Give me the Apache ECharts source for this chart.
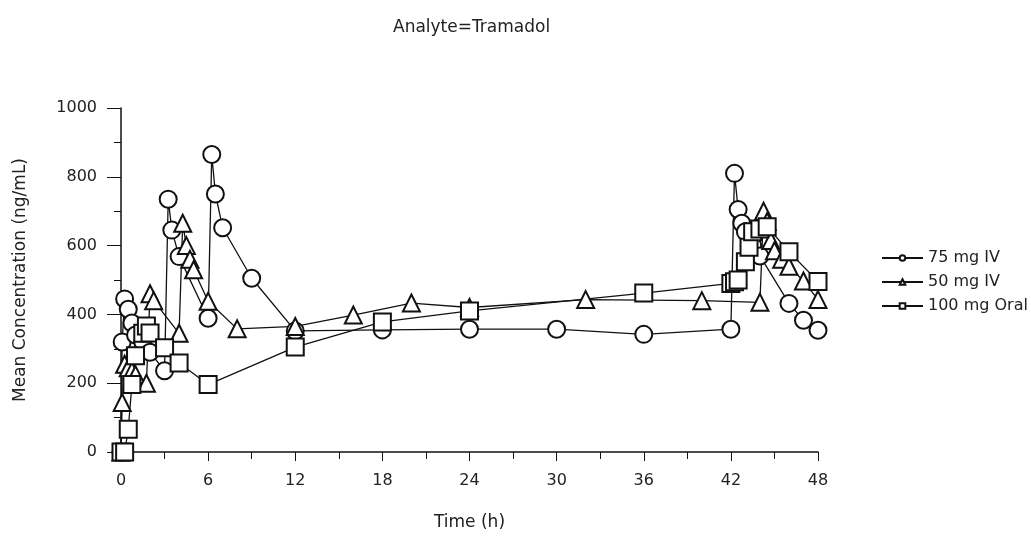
<!DOCTYPE html>
<html>
<head>
<meta charset="utf-8">
<script src="https://cdn.jsdelivr.net/npm/echarts@6/dist/echarts.min.js"></script>
<style>
html,body{margin:0;padding:0;background:#fff;}
#container{width:1031px;height:536px;}
</style>
</head>
<body>
<div id="container"></div>
<script>
// times (h) and mean concentrations (ng/mL)
var seriesNames = ['75 mg IV', '50 mg IV', '100 mg Oral'];

var iv75Time = [0, 0.08, 0.25, 0.5, 0.75, 1, 1.5, 2, 3, 3.25, 3.5, 4, 6, 6.25, 6.5, 7, 9, 12, 18, 24, 30, 36, 42, 42.25, 42.5, 42.75, 43, 43.5, 44, 46, 47, 48];
var iv75Conc = [0, 320, 445, 415, 375, 340, 320, 290, 236, 735, 645, 568, 389, 865, 750, 652, 505, 352, 355, 357, 357, 342, 357, 810, 705, 665, 640, 600, 570, 432, 383, 354];

var iv50Time = [0, 0.08, 0.25, 0.5, 0.75, 1, 1.75, 2, 2.25, 4, 4.25, 4.5, 4.75, 5, 6, 8, 12, 16, 20, 24, 32, 40, 44, 44.25, 44.5, 44.75, 45, 45.5, 46, 47, 48];
var iv50Conc = [0, 144, 255, 245, 235, 225, 200, 460, 440, 345, 665, 600, 560, 530, 438, 358, 365, 398, 433, 420, 443, 440, 435, 700, 670, 615, 585, 560, 540, 497, 443];

var oralTime = [0, 0.25, 0.5, 0.75, 1, 1.5, 1.75, 2, 3, 4, 6, 12, 18, 24, 36, 42, 42.25, 42.5, 43, 43.25, 43.5, 44, 44.5, 46, 48];
var oralConc = [0, 0, 66, 196, 280, 345, 366, 346, 303, 259, 196, 305, 378, 410, 462, 490, 495, 500, 553, 595, 640, 648, 655, 582, 496];

var symbols = ['emptyCircle', 'emptyTriangle', 'emptyRect'];

var font = 'DejaVu Sans';
var textColor = '#222';

function pairs(t, v) {
	var out = [];
	for (var i = 0; i < t.length; i++) out.push([t[i], v[i]]);
	return out;
}

window.onload = function () {
	var chart = echarts.init(document.getElementById('container'));
	var allData = [pairs(iv75Time, iv75Conc), pairs(iv50Time, iv50Conc), pairs(oralTime, oralConc)];
	var series = [];
	for (var i = 0; i < seriesNames.length; i++) {
		series.push({
			name: seriesNames[i],
			type: 'line',
			data: allData[i],
			symbol: symbols[i],
			symbolSize: 17,
			showAllSymbol: true,
			lineStyle: { color: '#111', width: 1.3 },
			itemStyle: { color: '#111', borderColor: '#111', borderWidth: 1.2 }
		});
	}
	chart.setOption({
		animation: false,
		title: {
			text: 'Analyte=Tramadol',
			left: 388,
			top: 14,
			textStyle: { fontFamily: font, fontSize: 17, fontWeight: 'normal', color: textColor }
		},
		legend: {
			orient: 'vertical',
			left: 876,
			top: 245,
			itemWidth: 41,
			itemHeight: 7,
			itemGap: 8,
			data: seriesNames,
			textStyle: { fontFamily: font, fontSize: 16, color: textColor }
		},
		grid: { left: 121, right: 213, top: 108, bottom: 81 },
		xAxis: {
			type: 'value',
			min: 0,
			max: 48,
			interval: 6,
			name: 'Time (h)',
			nameLocation: 'middle',
			nameGap: 62,
			nameTextStyle: { fontFamily: font, fontSize: 17, color: textColor },
			axisLine: { onZero: false, lineStyle: { color: '#111', width: 1.5 } },
			axisTick: { length: 9, lineStyle: { color: '#111' } },
			minorTick: { show: true, splitNumber: 2, length: 7, lineStyle: { color: '#111' } },
			axisLabel: { margin: 21, fontFamily: font, fontSize: 16, color: textColor },
			splitLine: { show: false }
		},
		yAxis: {
			type: 'value',
			min: 0,
			max: 1000,
			interval: 200,
			name: 'Mean Concentration (ng/mL)',
			nameLocation: 'middle',
			nameGap: 92,
			nameTextStyle: { fontFamily: font, fontSize: 17, color: textColor },
			axisLine: { show: true, lineStyle: { color: '#111', width: 1.5 } },
			axisTick: { show: true, length: 14, lineStyle: { color: '#111' } },
			minorTick: { show: true, splitNumber: 2, length: 7, lineStyle: { color: '#111' } },
			axisLabel: {
				margin: 24, fontFamily: font, fontSize: 16, color: textColor,
				formatter: function (v) { return String(v); }
			},
			splitLine: { show: false }
		},
		series: series
	});
};
</script>
</body>
</html>
